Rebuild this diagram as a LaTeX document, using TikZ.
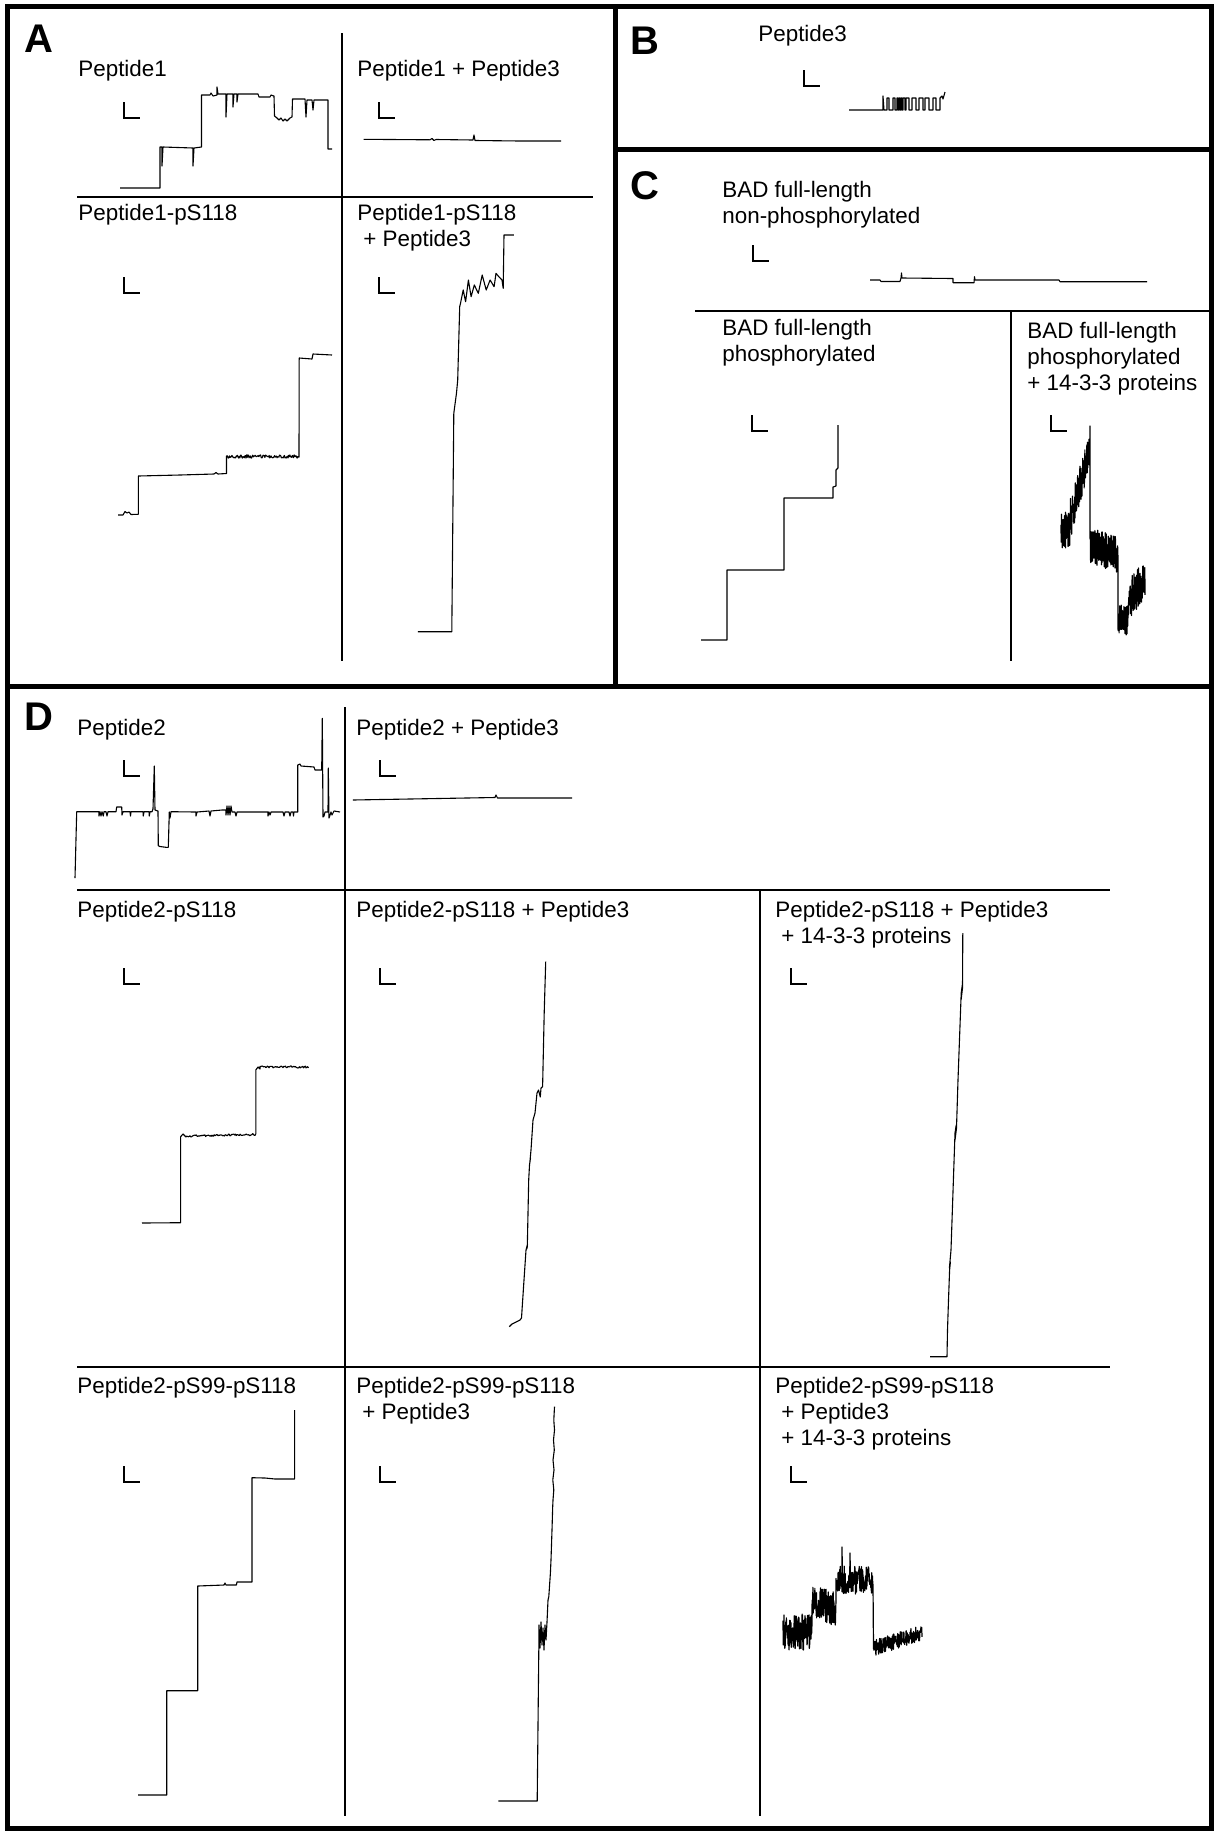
\documentclass[tikz,border=0pt]{standalone}
\usepackage{fontspec}
\setmainfont{Liberation Sans}
\begin{document}
\begin{tikzpicture}[x=0.5pt,y=-0.5pt,
  frame/.style={line width=2.5pt},
  divider/.style={line width=1.1pt},
  trace/.style={line width=0.55pt,line join=round},
  noisy/.style={line width=0.6pt,line join=round},
  barline/.style={line width=0.9pt},
  lab/.style={anchor=base west,inner sep=0pt,align=left,font=\fontsize{11.2}{13}\selectfont},
  plabel/.style={anchor=base west,inner sep=0pt,font=\fontsize{20}{20}\selectfont\bfseries},
  sbar/.pic={\draw[barline] (0,-16) -- (0,0) -- (16,0);}
]
\pgfmathsetseed{7}
\useasboundingbox (0,0) rectangle (1215,1832);
\fill[white] (0,0) rectangle (1215,1832);

% frames
\draw[frame] (7.5,6.5) rectangle (1211.5,1828.5);
\draw[frame] (615,6.5) -- (615,686);
\draw[frame] (615,149) -- (1211.5,149);
\draw[frame] (7.5,686) -- (1211.5,686);

% dividers
\draw[divider] (342,33) -- (342,661);
\draw[divider] (77,197) -- (593,197);
\draw[divider] (695,311) -- (1211.5,311);
\draw[divider] (1011,311) -- (1011,661);
\draw[divider] (345,707) -- (345,1816);
\draw[divider] (760,890) -- (760,1816);
\draw[divider] (77,890) -- (1110,890);
\draw[divider] (77,1367) -- (1110,1367);

% panel letters
\node[plabel] (pA) at (24,52) {A};
\node[plabel] (pB) at (630,54) {B};
\node[plabel] (pC) at (630,199) {C};
\node[plabel] (pD) at (24,730) {D};

% labels (anchor = baseline of last line)
\node[lab] (tA1) at (78,76) {Peptide1};
\node[lab] (tA2) at (357,76) {Peptide1 + Peptide3};
\node[lab] (tA3) at (78,220) {Peptide1-pS118};
\node[lab] (tA4) at (357,246) {Peptide1-pS118\\\hspace*{3pt}+ Peptide3};
\node[lab] (tB) at (758,41) {Peptide3};
\node[lab] (tC1) at (722,223) {BAD full-length\\non-phosphorylated};
\node[lab] (tC2) at (722,361) {BAD full-length\\phosphorylated};
\node[lab] (tC3) at (1027,390) {BAD full-length\\phosphorylated\\+ 14-3-3 proteins};
\node[lab] (tD1) at (77,735) {Peptide2};
\node[lab] (tD2) at (356,735) {Peptide2 + Peptide3};
\node[lab] (tD3) at (77,917) {Peptide2-pS118};
\node[lab] (tD4) at (356,917) {Peptide2-pS118 + Peptide3};
\node[lab] (tD5) at (775,943) {Peptide2-pS118 + Peptide3\\\hspace*{3pt}+ 14-3-3 proteins};
\node[lab] (tD6) at (77,1393) {Peptide2-pS99-pS118};
\node[lab] (tD7) at (356,1419) {Peptide2-pS99-pS118\\\hspace*{3pt}+ Peptide3};
\node[lab] (tD8) at (775,1445) {Peptide2-pS99-pS118\\\hspace*{3pt}+ Peptide3\\\hspace*{3pt}+ 14-3-3 proteins};

% scale bars
\pic at (124,118) {sbar};
\pic at (379,118) {sbar};
\pic at (124,293) {sbar};
\pic at (379,293) {sbar};
\pic at (804,86) {sbar};
\pic at (753,261) {sbar};
\pic at (752,431) {sbar};
\pic at (1051,431) {sbar};
\pic at (124,776) {sbar};
\pic at (380,776) {sbar};
\pic at (124,984) {sbar};
\pic at (380,984) {sbar};
\pic at (791,984) {sbar};
\pic at (124,1482) {sbar};
\pic at (380,1482) {sbar};
\pic at (791,1482) {sbar};

% ---- Panel A traces
\draw[trace] (120,188)--(160,188)--(160,147)--(162,147)--(162,166)--(163,147)--(193,148)--(193,166)--(194,148)--(201.5,147)--(201.5,95)--(210,95)--(211,93)--(213,96)--(217,95)--(217,87)--(218,94)--(226,94)--(226,117)--(227,94)--(233,94)--(233,107)--(234,94)--(237,94)--(237,102)--(238,94)--(258,94)--(259,97)--(270,97)--(271,95)--(274,96)--(274.5,116)--(277,118)--(279,120)--(281,118)--(283,121)--(285,119)--(287,121)--(290,118)--(292,117)--(292.5,99)--(305,99)--(306,117)--(307,100)--(312,100)--(313,110)--(314,100)--(328,100)--(328,149)--(332,149);
\draw[trace] (363.6,139.3)--(430,139.8)--(432,138.5)--(434,140.5)--(436,139.5)--(473,140)--(474,135)--(475,140.5)--(520,141)--(561,141);
\draw[trace] (118,515)--(123,515)--(125,511.5)--(127,513)--(129,512)--(131,514.5)--(138.3,514.3)--(138.3,476)--(180,475)--(214,474)--(216,472.5)--(218,474)--(226.5,473.5)--(226.5,456)
  -- plot[domain=226.5:299,samples=120] (\x,{456.5+1.6*rand})
  --(299.2,358)--(312,359)--(313,354)--(332,355);
\draw[trace] (417.8,631.7)--(451.8,631.7)--(453.8,413.3)--(456.5,393)--(457.7,380)--(459.7,306.7)--(460.5,303.3)--(463.2,290)--(465.6,301.7)--(468.4,280)--(471.1,296.7)--(474.3,285)--(478.3,293.3)--(482.2,275)--(486.2,290)--(490.1,280)--(494.1,286.7)--(496,273.3)--(498.8,276.7)--(502,280)--(503.2,288.3)--(504,235)--(513.8,235);

% ---- Panel B trace
\draw[trace] (849,110)--(883,110)--(883,96)--(884,110)--(887,110)--(887,98)--(889,98)--(889,110)--(893,110)--(893,98)--(895,98)--(895,110)--(897,110)--(897,98)--(898,98)--(898,110)--(899,110)--(899,98)--(900,98)--(900,110)--(901,110)--(901,98)--(902,98)--(902,110)--(903,110)--(903,98)--(905,98)--(905,110)--(906,110)--(906,98)--(909,98)--(909,110)--(912,110)--(912,98)--(916,98)--(916,110)--(919,110)--(919,98)--(923,98)--(923,110)--(925,110)--(925,98)--(929,98)--(929,110)--(933,110)--(933,98)--(936,98)--(936,110)--(940,110)--(940,98)--(942,96)--(943,99)--(945,92);

% ---- Panel C traces
\draw[trace] (870,280)--(880,280)--(881,281.5)--(900,281.5)--(901,278)--(901.5,273)--(902,278)--(953,278.5)--(953,282.7)--(974,282.7)--(974.5,276.7)--(975,280)--(1059,280)--(1060,281.7)--(1147,281.7);
\draw[trace] (701,640)--(727,640)--(727,570)--(784,570)--(784,498)--(833,498)--(833,487)--(836,486)--(836,470)--(838,468)--(838,425);
\draw[noisy] plot[domain=1061:1070,samples=50] (\x,{530+18*rand})
  -- plot[domain=1070:1090,samples=110] (\x,{520-70*(\x-1070)/20+20*rand})
  -- (1090,426)
  -- plot[domain=1090:1118,samples=150] (\x,{545+10*(\x-1090)/28+18*rand})
  -- plot[domain=1118:1128,samples=55] (\x,{620+15*rand})
  -- plot[domain=1128:1145,samples=90] (\x,{600-20*(\x-1128)/17+20*rand});

% ---- Panel D row 1
\draw[trace] (75,878)--(76.7,811.7)--(99,811.7)--(99,816)--(100,811.7)--(101,816)--(102,811.7)--(103.3,816)--(104,811.7)--(106,811.7)--(107,816)--(108,811.7)--(116,811.7)--(116.7,807)--(121.7,807)--(122,815)--(123,811.7)--(130,811.7)--(130.5,816)--(131,811.7)--(143,811.7)--(143.3,816)--(144,811.7)--(149,811.7)--(149.3,816)--(150,811.7)--(152,811.7)--(153,809)--(154.3,766)--(155,810)--(158,811)--(158.3,845.7)--(160,846.5)--(166,847.3)--(168.3,847.3)--(169.3,812)--(170,818)--(171,811.7)--(196,812)--(196,816)--(197,812)--(209,811)--(210,816)--(211,811)--(222,810)--(226,810)--(226,815)--(227,806)--(228,815)--(229,806)--(230,815)--(231,806)--(232,812)--(235,812)--(236,816)--(237,812)--(265,812)--(268,812)--(268,816)--(269,812)--(270,815)--(271,812)--(283,812)--(284,816)--(285,812)--(289,812)--(290,816)--(291,812)--(293,812)--(293.5,816)--(294,812)--(297.7,812)--(297.7,765)--(300,764)--(301,766)--(314,767)--(315,770)--(321.7,770)--(322.3,718.3)--(323,817)--(324,816)--(325,812)--(328,812)--(328.3,768)--(329,818)--(331,812)--(332,815)--(334,811)--(340,812);
\draw[trace] (352.9,800)--(495,797.5)--(496,795)--(497.5,798)--(572,798);

% ---- Panel D row 2
\draw[trace] (142,1223)--(180.6,1222.7)--(180.6,1136.7)--(183,1134)--(186,1137)
  -- plot[domain=186:255.8,samples=90] (\x,{1136-1.5*(\x-186)/70+1*rand})
  --(255.8,1070)--(258,1067)--(260,1069)
  -- plot[domain=260:308.5,samples=60] (\x,{1067+1*rand});
\draw[trace] (509.3,1326.7)--(512,1324)--(516,1322)--(520,1320)--(521.5,1318)--(524,1280)--(526,1250)--(527.5,1244)--(526.8,1249)--(527.3,1246.7)--(528.7,1180)--(529.5,1165)--(530.5,1158)--(529.8,1163)--(531,1150)--(533,1120)--(535,1113)--(537,1093)--(538.5,1090)--(540.3,1097)--(541,1088)--(542.6,1086.7)--(544.2,1013)--(545.7,961.7);
\draw[trace] (930,1356.7)--(947,1356.7)--(947.5,1330)--(948.5,1300)--(949.6,1270)--(950.4,1262)--(949.4,1268)--(951,1250)--(955,1133)--(956.2,1125)--(955,1140)--(956.5,1128)--(958,1080)--(961.2,993)--(962.3,985)--(961.2,999)--(962.5,988)--(962.8,933);

% ---- Panel D row 3
\draw[trace] (138,1795)--(166.7,1795)--(166.7,1690.7)--(197.7,1690.7)--(197.7,1586)--(224,1585)--(225,1583)--(226,1585)--(236.4,1585)--(237,1582)--(252,1582)--(252,1477.7)--(265,1478)--(275,1479)--(285,1479)--(294.6,1479)--(294.6,1410);
\draw[trace] (498.4,1801)--(537.2,1801)--(538.8,1650)--(539,1625)--(540,1648)--(541,1622)--(542,1645)--(543,1628)--(544,1650)--(545,1625)--(546,1640)--(547,1622)--(548,1600)--(548.8,1596.7)--(550.4,1573)--(551,1560)--(552,1530)--(552.7,1506.7)--(553,1500)--(553.8,1490)--(552.8,1480)--(554,1470)--(553,1460)--(554.3,1450)--(553.5,1440)--(554.5,1430)--(553.8,1420)--(554.5,1406.7);
\draw[noisy] plot[domain=783:812,samples=130] (\x,{1632+18*rand})
  -- plot[domain=812:836,samples=110] (\x,{1600+10*(\x-812)/24+17*rand})
  -- plot[domain=836:842,samples=25] (\x,{1580+14*rand})
  -- (842,1547) -- (842.5,1580)
  -- plot[domain=843:850,samples=30] (\x,{1580+14*rand})
  -- (850,1553) -- (850.5,1580)
  -- plot[domain=851:873,samples=90] (\x,{1580+14*rand})
  -- (873.5,1648)
  -- plot[domain=873.5:922,samples=180] (\x,{1648-15*(\x-873.5)/48.5+8*rand});
\end{tikzpicture}
\end{document}
